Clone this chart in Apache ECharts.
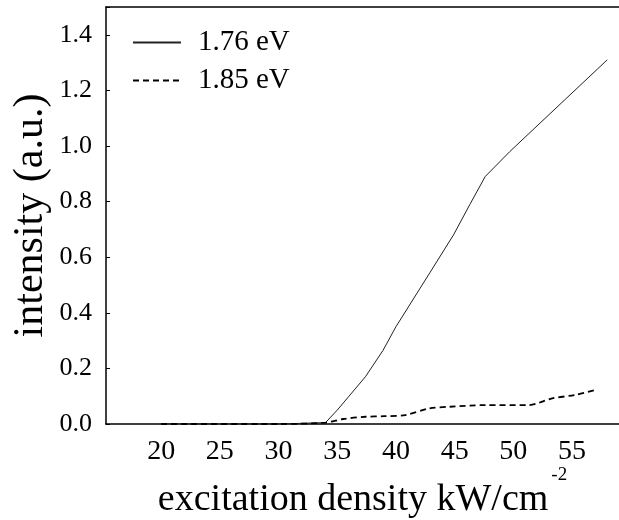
<!DOCTYPE html>
<html><head><meta charset="utf-8">
<script src="https://cdn.jsdelivr.net/npm/echarts@6/dist/echarts.min.js"></script>
<style>html,body{margin:0;padding:0;background:#fff}#c{width:619px;height:520px}</style>
</head><body><div id="c"></div>
<script>
const seriesNames = ['1.76 eV', '1.85 eV'];
const xSolid = [20, 25, 30, 34, 35, 36, 37.4, 38.9, 40, 42.9, 44.9, 46.3, 47.6, 49.7, 58];
const ySolid = [0, 0, 0, 0.005, 0.05, 0.10, 0.17, 0.265, 0.35, 0.545, 0.68, 0.79, 0.89, 0.98, 1.31];
const xDashed = [20, 30, 34, 35.5, 37.4, 39, 40.8, 42.8, 44.6, 47.6, 51.3, 53.3, 55.3, 57.1];
const yDashed = [0, 0, 0.005, 0.018, 0.026, 0.028, 0.032, 0.056, 0.062, 0.068, 0.068, 0.092, 0.105, 0.124];
const xTicks = [20, 25, 30, 35, 40, 45, 50, 55];
const yTicks = [0.0, 0.2, 0.4, 0.6, 0.8, 1.0, 1.2, 1.4];

const font = 'Liberation Serif';
const pairs = (xs, ys) => xs.map((x, i) => [x, ys[i]]);

const chart = echarts.init(document.getElementById('c'), null, {renderer: 'canvas'});
chart.setOption({
  animation: false,
  backgroundColor: '#fff',
  grid: {left: 106, top: 7, right: 0, bottom: 96, outerBoundsMode: 'none', containLabel: false},
  legend: {
    left: 132, top: 28, padding: 0, orient: 'vertical', itemWidth: 48, itemHeight: 14, itemGap: 9,
    itemStyle: {opacity: 0},
    textStyle: {fontFamily: font, fontSize: 29, color: '#000', padding: [0, 0, 0, 12]},
    data: seriesNames.map(n => ({name: n}))
  },
  xAxis: [{
    type: 'value', min: 15.3, max: 59,
    name: '{m|excitation density kW/cm}{sup|-2}', nameLocation: 'middle', nameGap: 42,
    nameMoveOverlap: false,
    nameTextStyle: {fontFamily: font, fontSize: 38, color: '#000',
      rich: {
        m: {fontFamily: font, fontSize: 38, color: '#000', verticalAlign: 'bottom'},
        sup: {fontFamily: font, fontSize: 19, color: '#000', verticalAlign: 'top', padding: [0, 0, 34, 3]}
      }},
    axisLine: {show: true, lineStyle: {color: '#000', width: 1.5}},
    axisTick: {show: false},
    splitLine: {show: false},
    axisLabel: {customValues: xTicks, fontFamily: font, fontSize: 28, color: '#000', margin: 14,
      formatter: v => String(v)}
  }, {
    type: 'value', min: 15.3, max: 59, position: 'top',
    axisLine: {show: true, lineStyle: {color: '#000', width: 1.5}},
    axisTick: {show: false}, axisLabel: {show: false}, splitLine: {show: false}
  }],
  yAxis: {
    type: 'value', min: 0, max: 1.5, interval: 0.2,
    name: 'intensity (a.u.)', nameLocation: 'middle', nameGap: 54,
    nameMoveOverlap: false,
    nameTextStyle: {fontFamily: font, fontSize: 42, color: '#000'},
    axisLine: {show: true, lineStyle: {color: '#000', width: 1.5}},
    axisTick: {show: true, inside: true, length: 4, lineStyle: {color: '#000'}},
    splitLine: {show: false},
    axisLabel: {fontFamily: font, fontSize: 26, color: '#000', margin: 14,
      formatter: v => yTicks.some(t => Math.abs(t - v) < 1e-6) ? v.toFixed(1) : ''}
  },
  series: [{
    name: seriesNames[0], type: 'line', symbol: 'none', xAxisIndex: 0,
    lineStyle: {color: '#222', width: 1, type: 'solid'},
    itemStyle: {color: '#000'},
    data: pairs(xSolid, ySolid)
  }, {
    name: seriesNames[1], type: 'line', symbol: 'none', smooth: 0.3, xAxisIndex: 0,
    lineStyle: {color: '#000', width: 1.8, type: [6, 4]},
    itemStyle: {color: '#000'},
    data: pairs(xDashed, yDashed)
  }]
});
</script></body></html>
